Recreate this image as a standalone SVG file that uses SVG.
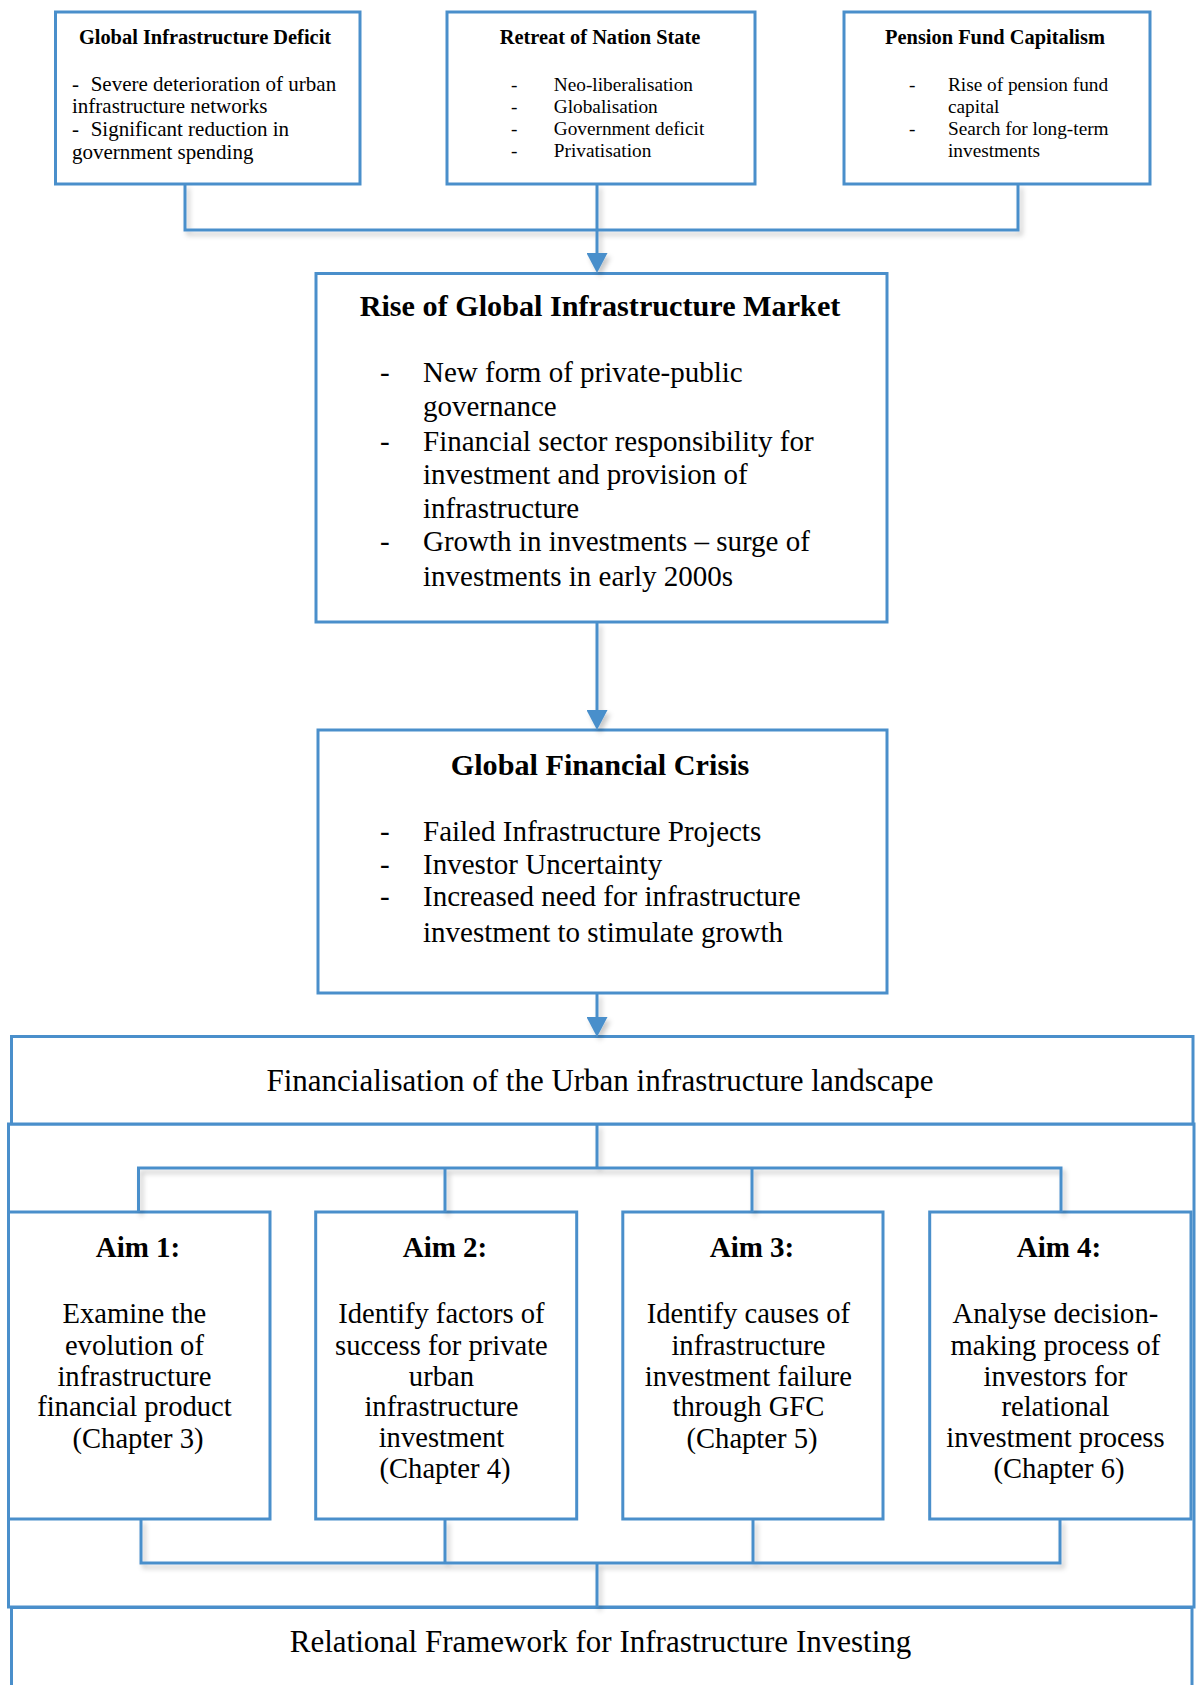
<svg xmlns="http://www.w3.org/2000/svg" width="1196" height="1685" viewBox="0 0 1196 1685">
  <style>
    .box { fill: #ffffff; stroke: #4A8FCB; stroke-width: 3; }
    .wire { fill: none; stroke: #4A8FCB; stroke-width: 3; }
    .t { font-family: "Liberation Serif", "Times New Roman", serif; fill: #000000; }
    .h20 { font-size: 20.4px; font-weight: bold; text-anchor: middle; }
    .b21 { font-size: 21px; }
    .b19 { font-size: 19.3px; }
    .h30 { font-size: 30.2px; font-weight: bold; text-anchor: middle; }
    .b29 { font-size: 29px; }
    .aimh { font-size: 29px; font-weight: bold; text-anchor: middle; }
    .aimb { font-size: 28.6px; text-anchor: middle; }
    .big { font-size: 31px; text-anchor: middle; }
  </style>
  <defs>
    <marker id="arrow" viewBox="0 0 20 21" refX="0" refY="10.5" markerWidth="20" markerHeight="21" markerUnits="userSpaceOnUse" orient="auto">
      <path d="M0,0 L20,10.5 L0,21 Z" fill="#4A8FCB"/>
    </marker>
    <filter id="shadow" filterUnits="userSpaceOnUse" x="0" y="0" width="1196" height="1685">
      <feDropShadow dx="3" dy="4" stdDeviation="2.5" flood-color="#000000" flood-opacity="0.22"/>
    </filter>
  </defs>

  <rect width="1196" height="1685" fill="#ffffff"/>

  <!-- top row: three driver boxes -->
  <g id="infrastructure-deficit">
    <rect class="box" x="55.5" y="12" width="304.5" height="172"/>
    <text class="t h20" x="205" y="44">Global Infrastructure Deficit</text>
    <text class="t b21">
      <tspan x="72" y="90.7">-</tspan><tspan x="90.7" y="90.7">Severe deterioration of urban</tspan>
      <tspan x="72" y="112.5">infrastructure networks</tspan>
      <tspan x="72" y="136">-</tspan><tspan x="90.7" y="136">Significant reduction in</tspan>
      <tspan x="72" y="158.5">government spending</tspan>
    </text>
  </g>

  <g id="retreat-nation-state">
    <rect class="box" x="447" y="12" width="308" height="172"/>
    <text class="t h20" x="600" y="44">Retreat of Nation State</text>
    <text class="t b19">
      <tspan x="511" y="90.7">-</tspan><tspan x="553.8" y="90.7">Neo-liberalisation</tspan>
      <tspan x="511" y="112.7">-</tspan><tspan x="553.8" y="112.7">Globalisation</tspan>
      <tspan x="511" y="135">-</tspan><tspan x="553.8" y="135">Government deficit</tspan>
      <tspan x="511" y="157.3">-</tspan><tspan x="553.8" y="157.3">Privatisation</tspan>
    </text>
  </g>

  <g id="pension-fund-capitalism">
    <rect class="box" x="844" y="12" width="306" height="172"/>
    <text class="t h20" x="995" y="44">Pension Fund Capitalism</text>
    <text class="t b19">
      <tspan x="909" y="90.7">-</tspan><tspan x="948" y="90.7">Rise of pension fund</tspan>
      <tspan x="948" y="112.5">capital</tspan>
      <tspan x="909" y="135">-</tspan><tspan x="948" y="135">Search for long-term</tspan>
      <tspan x="948" y="157.3">investments</tspan>
    </text>
  </g>

  <!-- market box -->
  <g id="global-infrastructure-market">
    <rect class="box" x="316" y="273.5" width="571" height="348.5"/>
    <text class="t h30" x="600" y="316">Rise of Global Infrastructure Market</text>
    <text class="t b29">
      <tspan x="380" y="382">-</tspan><tspan x="423" y="382">New form of private-public</tspan>
      <tspan x="423" y="416">governance</tspan>
      <tspan x="380" y="450.5">-</tspan><tspan x="423" y="450.5">Financial sector responsibility for</tspan>
      <tspan x="423" y="484">investment and provision of</tspan>
      <tspan x="423" y="518">infrastructure</tspan>
      <tspan x="380" y="551">-</tspan><tspan x="423" y="551">Growth in investments – surge of</tspan>
      <tspan x="423" y="585.5">investments in early 2000s</tspan>
    </text>
  </g>

  <!-- crisis box -->
  <g id="global-financial-crisis">
    <rect class="box" x="318" y="730" width="569" height="263"/>
    <text class="t h30" x="600" y="775">Global Financial Crisis</text>
    <text class="t b29">
      <tspan x="380" y="840.5">-</tspan><tspan x="423" y="840.5">Failed Infrastructure Projects</tspan>
      <tspan x="380" y="874">-</tspan><tspan x="423" y="874">Investor Uncertainty</tspan>
      <tspan x="380" y="905.5">-</tspan><tspan x="423" y="905.5">Increased need for infrastructure</tspan>
      <tspan x="423" y="941.5">investment to stimulate growth</tspan>
    </text>
  </g>

  <!-- research frame holding the four aims -->
  <g id="research-frame">
    <rect class="box" x="8.5" y="1124" width="1185.5" height="483"/>
  </g>

  <g id="financialisation">
    <rect class="box" x="11.5" y="1036.5" width="1181.5" height="87.5"/>
    <text class="t big" x="600" y="1090.5">Financialisation of the Urban infrastructure landscape</text>
  </g>

  <g id="aim-1">
    <rect class="box" x="8.5" y="1212" width="261.5" height="307"/>
    <text class="t aimh" x="138" y="1257">Aim 1:</text>
    <text class="t aimb">
      <tspan x="138" y="1323">Examine the</tspan>
      <tspan x="138" y="1354.5">evolution of</tspan>
      <tspan x="138" y="1385.5">infrastructure</tspan>
      <tspan x="138" y="1416">financial product</tspan>
      <tspan x="138" y="1448">(Chapter 3)</tspan>
    </text>
  </g>

  <g id="aim-2">
    <rect class="box" x="315.7" y="1212" width="261" height="307"/>
    <text class="t aimh" x="445" y="1257">Aim 2:</text>
    <text class="t aimb">
      <tspan x="445" y="1323">Identify factors of</tspan>
      <tspan x="445" y="1354.5">success for private</tspan>
      <tspan x="445" y="1385.5">urban</tspan>
      <tspan x="445" y="1416">infrastructure</tspan>
      <tspan x="445" y="1447">investment</tspan>
      <tspan x="445" y="1477.5">(Chapter 4)</tspan>
    </text>
  </g>

  <g id="aim-3">
    <rect class="box" x="622.8" y="1212" width="260.2" height="307"/>
    <text class="t aimh" x="752" y="1257">Aim 3:</text>
    <text class="t aimb">
      <tspan x="752" y="1323">Identify causes of</tspan>
      <tspan x="752" y="1354.5">infrastructure</tspan>
      <tspan x="752" y="1385.5">investment failure</tspan>
      <tspan x="752" y="1416">through GFC</tspan>
      <tspan x="752" y="1448">(Chapter 5)</tspan>
    </text>
  </g>

  <g id="aim-4">
    <rect class="box" x="929.7" y="1212" width="261.3" height="307"/>
    <text class="t aimh" x="1059" y="1257">Aim 4:</text>
    <text class="t aimb">
      <tspan x="1059" y="1323">Analyse decision-</tspan>
      <tspan x="1059" y="1354.5">making process of</tspan>
      <tspan x="1059" y="1385.5">investors for</tspan>
      <tspan x="1059" y="1416">relational</tspan>
      <tspan x="1059" y="1447">investment process</tspan>
      <tspan x="1059" y="1477.5">(Chapter 6)</tspan>
    </text>
  </g>

  <g id="relational-framework">
    <rect class="box" x="11.5" y="1607.5" width="1180.5" height="100"/>
    <text class="t big" x="600.5" y="1651.5">Relational Framework for Infrastructure Investing</text>
  </g>

  <!-- connectors -->
  <g id="connectors" filter="url(#shadow)">
    <!-- drivers merge into the market box -->
    <path class="wire" d="M185,184 V230 H1018 V184"/>
    <path class="wire" d="M597,184 V253" marker-end="url(#arrow)"/>
    <!-- market to crisis -->
    <path class="wire" d="M597,622 V710" marker-end="url(#arrow)"/>
    <!-- crisis to financialisation -->
    <path class="wire" d="M597,993 V1017" marker-end="url(#arrow)"/>
    <!-- fan-out to the aims -->
    <path class="wire" d="M597,1124 V1168"/>
    <path class="wire" d="M138.5,1212 V1168 H1061 V1212"/>
    <path class="wire" d="M445,1168 V1212"/>
    <path class="wire" d="M752,1168 V1212"/>
    <!-- fan-in to the framework -->
    <path class="wire" d="M141,1519 V1563 H1060 V1519"/>
    <path class="wire" d="M445,1519 V1563"/>
    <path class="wire" d="M753,1519 V1563"/>
    <path class="wire" d="M597,1563 V1607"/>
  </g>
</svg>
